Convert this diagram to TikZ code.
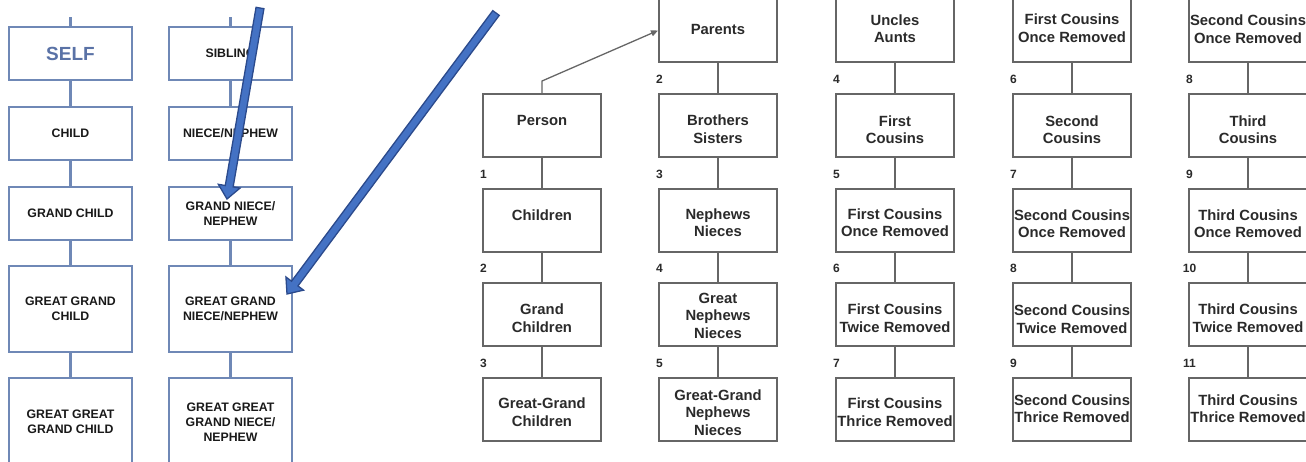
\documentclass[tikz,border=0pt]{standalone}
\usepackage{fontspec}
\setmainfont{Liberation Sans}
\usetikzlibrary{calc,arrows.meta}
\definecolor{lbox}{HTML}{6F88B6}
\definecolor{selfc}{HTML}{5A72A6}
\definecolor{gbox}{HTML}{666666}
\definecolor{gtext}{HTML}{2A2A2A}
\definecolor{afill}{HTML}{4472C4}
\definecolor{aline}{HTML}{2B4A8C}
\newcommand\blarrow[2]{%
  \coordinate (hb) at ($(#2)!13pt!(#1)$);
  \draw[barrow] ($(#1)!4pt!90:(#2)$) -- ($(hb)!4pt!90:(#2)$) -- ($(hb)!11pt!90:(#2)$) -- (#2)
    -- ($(hb)!11pt!-90:(#2)$) -- ($(hb)!4pt!-90:(#2)$) -- ($(#1)!4pt!-90:(#2)$) -- cycle;}
% shifted multi-line text: #1 = lift, #2 = lines
\newcommand\mtxt[2]{\raisebox{#1}[\height][\depth]{\begin{tabular}{@{}c@{}}#2\end{tabular}}}
\begin{document}
\begin{tikzpicture}[x=1pt,y=-1pt,
  lb/.style={draw=lbox, line width=2.5pt, minimum width=123pt, minimum height=53pt, inner sep=0pt,
    align=center, font=\fontsize{12.3}{14.7}\selectfont\bfseries, text=black!90},
  llink/.style={draw=lbox, line width=2.5pt},
  gb/.style={draw=gbox, line width=2pt, minimum width=118pt, minimum height=63pt, inner sep=0pt,
    align=center, font=\fontsize{14.8}{17.3}\selectfont\bfseries, text=gtext},
  glink/.style={draw=gbox, line width=1.5pt},
  num/.style={font=\fontsize{12}{12}\selectfont\bfseries, text=gtext, inner sep=0pt},
  barrow/.style={fill=afill, draw=aline, line width=1.3pt, line join=miter}]
\clip (0,0) rectangle (1306,461);
% ---------- left diagram ----------
\node[lb, font=\fontsize{19}{22}\selectfont\bfseries, text=selfc] (self) at (70.5,53.5) {SELF};
\node[lb] (child) at (70.5,133.5) {CHILD};
\node[lb] (gchild) at (70.5,213.5) {GRAND CHILD};
\node[lb, minimum height=86pt] (ggchild) at (70.5,309) {GREAT GRAND\\CHILD};
\node[lb, minimum height=88pt] (gggchild) at (70.5,422) {GREAT GREAT\\GRAND CHILD};
\node[lb] (sib) at (230.5,53.5) {SIBLING};
\node[lb] (niece) at (230.5,133.5) {NIECE/NEPHEW};
\node[lb] (gniece) at (230.5,213.5) {GRAND NIECE/\\NEPHEW};
\node[lb, minimum height=86pt] (ggniece) at (230.5,309) {GREAT GRAND\\NIECE/NEPHEW};
\node[lb, minimum height=88pt] (gggniece) at (230.5,422) {GREAT GREAT\\GRAND NIECE/\\NEPHEW};
\coordinate (t1) at (70.5,17);
\coordinate (t2) at (230.5,17);
\draw[llink] (t1) -- (self.north);
\draw[llink] (self) -- (child);
\draw[llink] (child) -- (gchild);
\draw[llink] (gchild) -- (ggchild);
\draw[llink] (ggchild) -- (gggchild);
\draw[llink] (t2) -- (sib.north);
\draw[llink] (sib) -- (niece);
\draw[llink] (niece) -- (gniece);
\draw[llink] (gniece) -- (ggniece);
\draw[llink] (ggniece) -- (gggniece);
% ---------- right diagram ----------
% column A
\node[gb] (person) at (542,125.5) {\mtxt{3pt}{Person}};
\node[gb] (children) at (542,220.5) {\mtxt{3.5pt}{Children}};
\node[gb] (gchildren) at (542,314.5) {\mtxt{-5.5pt}{Grand\\Children}};
\node[gb] (ggchildren) at (542,409.5) {\mtxt{-4.5pt}{Great-Grand\\Children}};
% column B
\node[gb] (parents) at (718,30.5) {\mtxt{-0.5pt}{Parents}};
\node[gb] (brothers) at (718,125.5) {\mtxt{-5.5pt}{Brothers\\Sisters}};
\node[gb] (nephews) at (718,220.5) {\mtxt{-4pt}{Nephews\\Nieces}};
\node[gb] (gnephews) at (718,314.5) {\mtxt{-3pt}{Great\\Nephews\\Nieces}};
\node[gb] (ggnephews) at (718,409.5) {\mtxt{-5pt}{Great-Grand\\Nephews\\Nieces}};
% column C
\node[gb] (uncles) at (895,30.5) {\mtxt{0pt}{Uncles\\Aunts}};
\node[gb] (fc) at (895,125.5) {\mtxt{-6pt}{First\\Cousins}};
\node[gb] (fc1) at (895,220.5) {\mtxt{-4pt}{First Cousins\\Once Removed}};
\node[gb] (fc2) at (895,314.5) {\mtxt{-5.5pt}{First Cousins\\Twice Removed}};
\node[gb] (fc3) at (895,409.5) {\mtxt{-4.5pt}{First Cousins\\Thrice Removed}};
% column D
\node[gb] (d0) at (1072,30.5) {\mtxt{0.5pt}{First Cousins\\Once Removed}};
\node[gb] (sc) at (1072,125.5) {\mtxt{-6pt}{Second\\Cousins}};
\node[gb] (sc1) at (1072,220.5) {\mtxt{-5pt}{Second Cousins\\Once Removed}};
\node[gb] (sc2) at (1072,314.5) {\mtxt{-6.5pt}{Second Cousins\\Twice Removed}};
\node[gb] (sc3) at (1072,409.5) {\mtxt{-1pt}{Second Cousins\\Thrice Removed}};
% column E
\node[gb] (e0) at (1248,30.5) {\mtxt{-0.5pt}{Second Cousins\\Once Removed}};
\node[gb] (tc) at (1248,125.5) {\mtxt{-6pt}{Third\\Cousins}};
\node[gb] (tc1) at (1248,220.5) {\mtxt{-5pt}{Third Cousins\\Once Removed}};
\node[gb] (tc2) at (1248,314.5) {\mtxt{-5.5pt}{Third Cousins\\Twice Removed}};
\node[gb] (tc3) at (1248,409.5) {\mtxt{-1pt}{Third Cousins\\Thrice Removed}};
% links
\draw[glink] (person) -- (children);
\draw[glink] (children) -- (gchildren);
\draw[glink] (gchildren) -- (ggchildren);
\draw[glink] (parents) -- (brothers);
\draw[glink] (brothers) -- (nephews);
\draw[glink] (nephews) -- (gnephews);
\draw[glink] (gnephews) -- (ggnephews);
\draw[glink] (uncles) -- (fc);
\draw[glink] (fc) -- (fc1);
\draw[glink] (fc1) -- (fc2);
\draw[glink] (fc2) -- (fc3);
\draw[glink] (d0) -- (sc);
\draw[glink] (sc) -- (sc1);
\draw[glink] (sc1) -- (sc2);
\draw[glink] (sc2) -- (sc3);
\draw[glink] (e0) -- (tc);
\draw[glink] (tc) -- (tc1);
\draw[glink] (tc1) -- (tc2);
\draw[glink] (tc2) -- (tc3);
\draw[glink, line width=1.3pt, -{Triangle[length=7pt,width=6pt]}] (person.north) -- ++(0,-12) -- (parents.west);
% numbers
\node[num] (nA2) at ($(children.north west)+(1.5,-14)$) {1};
\node[num] (nA3) at ($(gchildren.north west)+(1.5,-14)$) {2};
\node[num] (nA4) at ($(ggchildren.north west)+(1.5,-14)$) {3};
\node[num] (nB1) at ($(brothers.north west)+(1.5,-14)$) {2};
\node[num] (nB2) at ($(nephews.north west)+(1.5,-14)$) {3};
\node[num] (nB3) at ($(gnephews.north west)+(1.5,-14)$) {4};
\node[num] (nB4) at ($(ggnephews.north west)+(1.5,-14)$) {5};
\node[num] (nC1) at ($(fc.north west)+(1.5,-14)$) {4};
\node[num] (nC2) at ($(fc1.north west)+(1.5,-14)$) {5};
\node[num] (nC3) at ($(fc2.north west)+(1.5,-14)$) {6};
\node[num] (nC4) at ($(fc3.north west)+(1.5,-14)$) {7};
\node[num] (nD1) at ($(sc.north west)+(1.5,-14)$) {6};
\node[num] (nD2) at ($(sc1.north west)+(1.5,-14)$) {7};
\node[num] (nD3) at ($(sc2.north west)+(1.5,-14)$) {8};
\node[num] (nD4) at ($(sc3.north west)+(1.5,-14)$) {9};
\node[num] (nE1) at ($(tc.north west)+(1.5,-14)$) {8};
\node[num] (nE2) at ($(tc1.north west)+(1.5,-14)$) {9};
\node[num] (nE3) at ($(tc2.north west)+(1.5,-14)$) {10};
\node[num] (nE4) at ($(tc3.north west)+(1.5,-14)$) {11};
% ---------- blue arrows ----------
\coordinate (a1s) at (260,8);
\coordinate (a1t) at (227,199);
\coordinate (a2s) at (496,13);
\coordinate (a2t) at (287,294);
\blarrow{a1s}{a1t}
\blarrow{a2s}{a2t}
\end{tikzpicture}
\end{document}
